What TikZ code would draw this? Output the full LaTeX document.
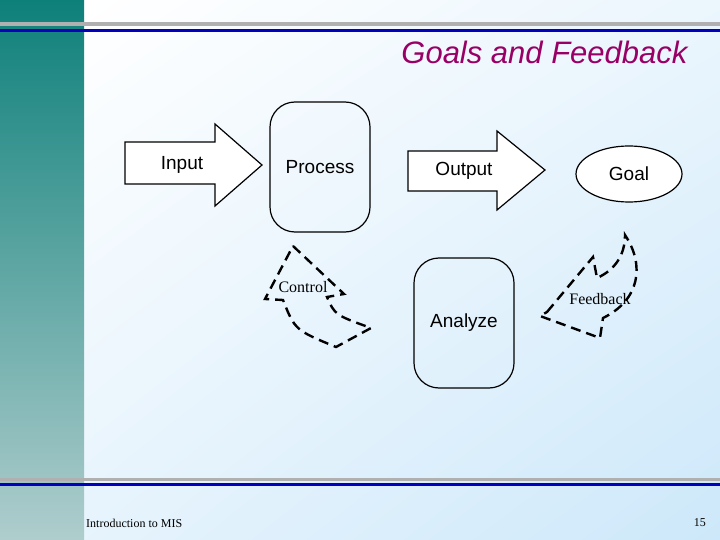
\documentclass[tikz,border=0pt]{standalone}
\usepackage{fontspec}
\setmainfont{Liberation Serif}
\setsansfont{Liberation Sans}
\usetikzlibrary{shapes.geometric,shadings}
\definecolor{titlered}{RGB}{153,0,102}
\definecolor{barteal}{RGB}{14,128,122}
\definecolor{barpale}{RGB}{175,205,205}
\definecolor{palesky}{RGB}{205,232,250}
\definecolor{rulegray}{RGB}{176,176,176}
\definecolor{ruleblue}{RGB}{0,0,190}
\tikzset{
box/.style = {draw,line width=1.2pt,rounded corners=25pt,minimum width=100pt,minimum height=130pt},
word/.style = {font=\sffamily\fontsize{19}{21}\selectfont},
label/.style = {font=\fontsize{16}{18}\selectfont,inner sep=0pt},
loop/.style = {draw,line width=2.4pt,dash pattern=on 10pt off 6pt},
fat/.style = {draw,line width=1.2pt}
}
\begin{document}
\begin{tikzpicture}[x=1pt,y=-1pt]
    \useasboundingbox (0,0) rectangle (720,540);
    % background
    \shade[upper left=white,upper right=white!60!palesky,lower left=white!50!palesky,lower right=palesky] (84,0) rectangle (720,540);
    \shade[top color=barteal,bottom color=barpale] (0,0) rectangle (84,540);
    \fill[rulegray] (0,22) rectangle (720,26);
    \fill[ruleblue] (0,29) rectangle (720,32);
    \fill[rulegray] (0,478) rectangle (720,481);
    \fill[ruleblue] (0,483) rectangle (720,486);
    \node[font=\sffamily\itshape\fontsize{31}{33}\selectfont,text=titlered,anchor=east] (title) at (691,52) {Goals and Feedback};

    % flow
    \path[fat,fill=white] (125,142) -- (215,142) -- (215,124) -- (262,165) -- (215,206) -- (215,184) -- (125,184) -- cycle;
    \node[word] (input) at (182,165) {Input};
    \node[box] (process) at (320,167) {};
    \node[word] at (process) {Process};
    \path[fat,fill=white] (408,151) -- (497,151) -- (497,131) -- (545,170) -- (497,210) -- (497,191) -- (408,191) -- cycle;
    \node[word] (output) at (464,171) {Output};
    \node[ellipse,fat,fill=white,minimum width=106pt,minimum height=56pt] (goal) at (629,174) {};
    \node[word] at (goal) {Goal};
    \node[box] (analyze) at (464,323) {};
    \node[word] at (analyze) {Analyze};

    % loops
    \path[loop] (293,246) -- (344,294) -- (327,297) .. controls (335,315) .. (371,328) -- (336,347) .. controls (295,330) .. (283,300) -- (265,299) -- cycle;
    \node[label] (control) at (303,287) {Control};
    \path[loop] (547,312) -- (593,257) -- (597,278) .. controls (615,270) and (625,255) .. (625,235) .. controls (645,265) and (640,300) .. (603,318) -- (600,338) -- (540,316) -- cycle;
    \node[label] (feedback) at (600,299) {Feedback};

    % footer
    \node[font=\fontsize{12}{14}\selectfont,anchor=west,inner sep=0pt] (course) at (86,523) {Introduction to MIS};
    \node[font=\fontsize{12}{14}\selectfont,anchor=east,inner sep=0pt] (page) at (706,523) {15};
\end{tikzpicture}
\end{document}
